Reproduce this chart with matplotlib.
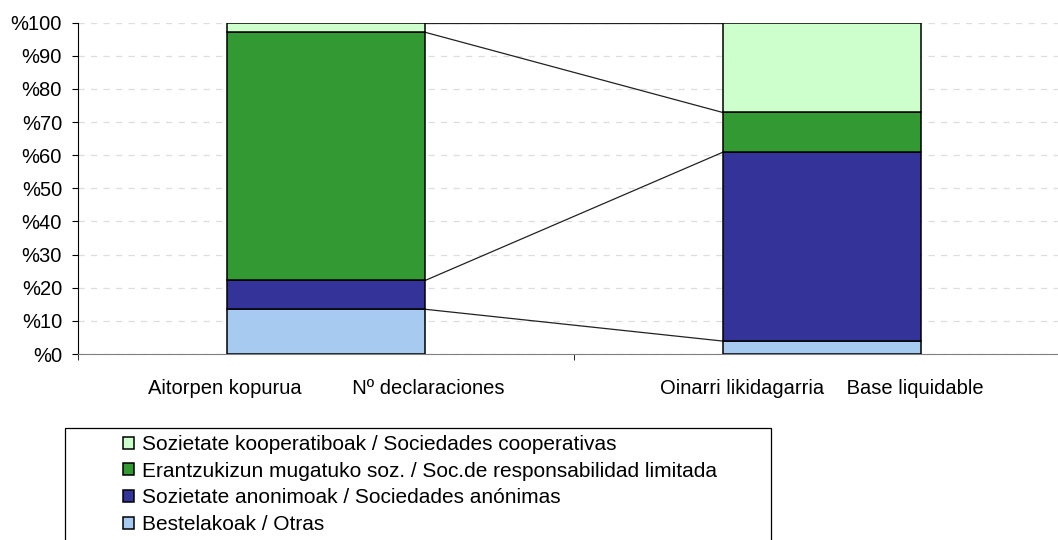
import matplotlib.pyplot as plt
from matplotlib.patches import Rectangle
import numpy as np

# categories (x axis)
categories = ["Aitorpen kopurua         Nº declaraciones",
              "Oinarri likidagarria    Base liquidable"]

# stacked shares, bottom to top
otras = [13.5, 3.9]
anonimas = [8.7, 57.0]
limitada = [74.9, 12.0]
cooperativas = [2.9, 27.1]

series_names = ["Bestelakoak / Otras",
                "Sozietate anonimoak / Sociedades anónimas",
                "Erantzukizun mugatuko soz. / Soc.de responsabilidad limitada",
                "Sozietate kooperatiboak / Sociedades cooperativas"]
series_colors = ["#A6CAF0", "#333399", "#339933", "#CCFFCC"]

plt.rcParams['font.family'] = ['Liberation Sans', 'DejaVu Sans']

fig = plt.figure(figsize=(10.58, 5.40), dpi=100)
ax = fig.add_axes([78 / 1058, (540 - 354) / 540, (1070 - 78) / 1058, (354 - 22.7) / 540])

x = np.arange(len(categories))
width = 0.4
data = [otras, anonimas, limitada, cooperativas]
bottom = np.zeros(len(categories))
handles = []
for vals, name, col in zip(data, series_names, series_colors):
    h = ax.bar(x, vals, width, bottom=bottom, color=col, edgecolor="black",
               linewidth=1.1, label=name, zorder=3)
    handles.append(h)
    bottom = bottom + np.array(vals)
    # series lines between the bars
    ax.plot([x[0] + width / 2, x[1] - width / 2], [bottom[0], bottom[1]],
            color="#222222", linewidth=0.9, zorder=2)

ax.set_xlim(-0.5, 1.5)
ax.set_ylim(0, 100)
ax.set_yticks(np.arange(0, 101, 10))
ax.set_yticklabels(["%" + str(v) for v in range(0, 101, 10)], fontsize=14.5)
ax.yaxis.grid(True, color="#dedede", linestyle=(0, (5, 5)), linewidth=0.9)
ax.set_axisbelow(True)

ax.set_xticks(x)
ax.set_xticklabels(categories, fontsize=14.5)
ax.tick_params(axis="x", which="major", length=0, pad=18)
ax.set_xticks([-0.5, 0.5], minor=True)
ax.tick_params(axis="x", which="minor", length=4.5, color="black")
ax.tick_params(axis="y", length=4.5, color="black", pad=7)

for s in ["top", "right"]:
    ax.spines[s].set_visible(False)
ax.spines["bottom"].set_color("#808080")
ax.spines["left"].set_color("black")

# legend without its own frame, and a frame box that runs off the bottom
leg = fig.legend(handles[::-1], series_names[::-1], loc="upper left",
                 bbox_to_anchor=(123 / 1058, 1 - 435 / 540),
                 fontsize=15, frameon=False,
                 handlelength=0.52, handleheight=0.52, handletextpad=0.4,
                 labelspacing=0.37, borderaxespad=0, borderpad=0)
fig.patches.append(Rectangle((65 / 1058, -0.05), (771 - 65) / 1058, 0.05 + 1 - 428 / 540,
                             transform=fig.transFigure, fill=False,
                             edgecolor="black", linewidth=0.9))

fig.savefig("out.png", dpi=100)
